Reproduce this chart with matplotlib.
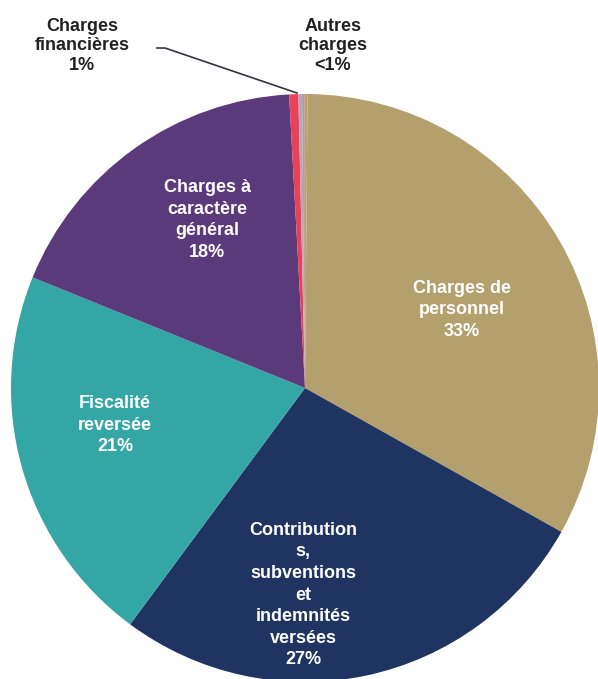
import matplotlib.pyplot as plt

plt.rcParams['font.family'] = ['Liberation Sans', 'DejaVu Sans']

# Répartition des charges (%)
categories = ["Charges de\npersonnel", "Contribution\ns,\nsubventions\net\nindemnités\nversées",
              "Fiscalité\nreversée", "Charges à\ncaractère\ngénéral", "Charges\nfinancières",
              "Autres 1", "Autres 2", "Autres 3"]
values = [33, 27, 21, 18, 0.5, 0.2, 0.15, 0.15]
colors = ["#B4A06C", "#1F3461", "#34A6A6", "#5B3A7B", "#E8425A",
          "#C9A0A8", "#8DA9BB", "#D6975C"]
autres_label = "Autres\ncharges\n<1%"

W, H = 598, 679
fig = plt.figure(figsize=(W / 100, H / 100), dpi=100)
ax = fig.add_axes([0, 0, 1, 1])

cx, cy, r = 305, H - 388, 294
ax.pie(values, colors=colors, startangle=89.5, counterclock=False,
       center=(cx, cy), radius=r, frame=True,
       wedgeprops=dict(linewidth=0))
ax.set_xlim(0, W)
ax.set_ylim(0, H)
ax.set_aspect("equal")
ax.axis("off")

def pct(v):
    return f"{int(v + 0.5)}%"

style = dict(fontsize=13, fontweight="bold", ha="center", va="center", linespacing=1.35)
outer = dict(style, linespacing=1.22, color="#222222")

# étiquettes dans les secteurs
inside = [(462, 310), (303, 595), (115, 425), (207, 220)]
for i, (x, y) in enumerate(inside):
    ax.text(x, H - y, categories[i] + "\n" + pct(values[i]), color="white", **style)

# étiquettes extérieures
ax.text(82, H - 46, categories[4] + "\n" + pct(values[4]), **outer)
ax.text(333, H - 46, autres_label, **outer)
ax.plot([157, 165, 297], [H - 48, H - 48, H - 93], color="#333344", lw=1.2)

fig.savefig("out.png", dpi=100)
